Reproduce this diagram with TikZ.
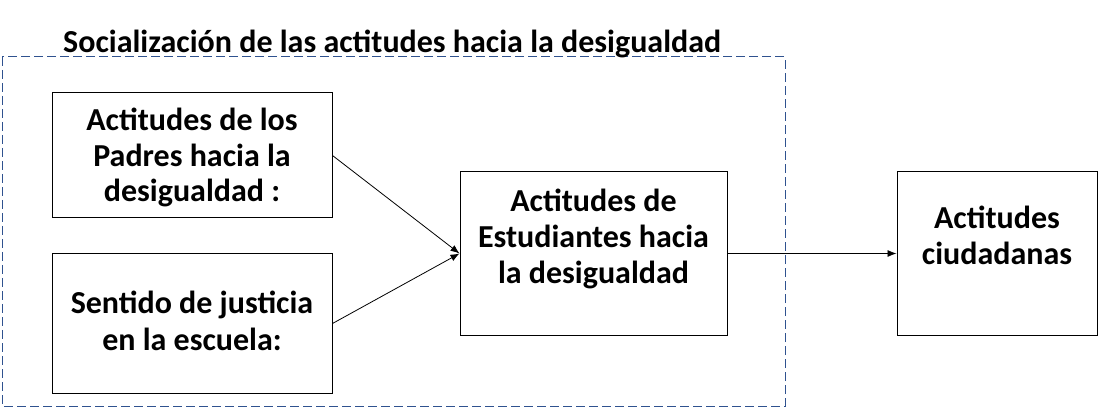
\documentclass[tikz,border=0pt]{standalone}
\usepackage{fontspec}
\setmainfont{Carlito}
\usetikzlibrary{arrows.meta}
\begin{document}
\begin{tikzpicture}[x=1pt,y=-1pt,
  box/.style={draw,line width=1pt,inner sep=0pt},
  txt/.style={anchor=base,align=center,inner sep=0pt,font=\bfseries\fontsize{32}{36}\selectfont},
  arr/.style={-{Latex[length=9pt,width=7pt]},line width=0.8pt},
  group/.style={draw={rgb,255:red,47;green,82;blue,143},line width=1pt,dash pattern=on 9pt off 4pt}]
\useasboundingbox (0,0) rectangle (1118,419);
\draw[group] (2,57) rectangle (785,406);
\node[anchor=base west,font=\bfseries\fontsize{32}{36}\selectfont,inner sep=0pt] (title) at (63,53) {Socialización de las actitudes hacia la desigualdad};
\node[box,minimum width=280pt,minimum height=125pt] (pad) at (192,155.5) {};
\node[box,minimum width=280pt,minimum height=139pt] (jus) at (192,323.5) {};
\node[box,minimum width=267pt,minimum height=163pt] (est) at (593.5,253.5) {};
\node[box,minimum width=200pt,minimum height=163pt] (ciu) at (997,253.5) {};
\node[txt,font=\bfseries\fontsize{32}{35.5}\selectfont] (padt) at (192,201.7) {Actitudes de los\\Padres hacia la\\desigualdad :};
\node[txt] (just) at (192,350) {Sentido de justicia\\en la escuela:};
\node[txt,font=\bfseries\fontsize{32}{35.8}\selectfont] (estt) at (593.5,283.3) {Actitudes de\\Estudiantes hacia\\la desigualdad};
\node[txt] (ciut) at (997,265) {Actitudes\\ciudadanas};
\draw[arr] (pad.east) -- (est.west);
\draw[arr] (jus.east) -- (est.west);
\draw[arr] (est.east) -- (ciu.west);
\end{tikzpicture}
\end{document}
